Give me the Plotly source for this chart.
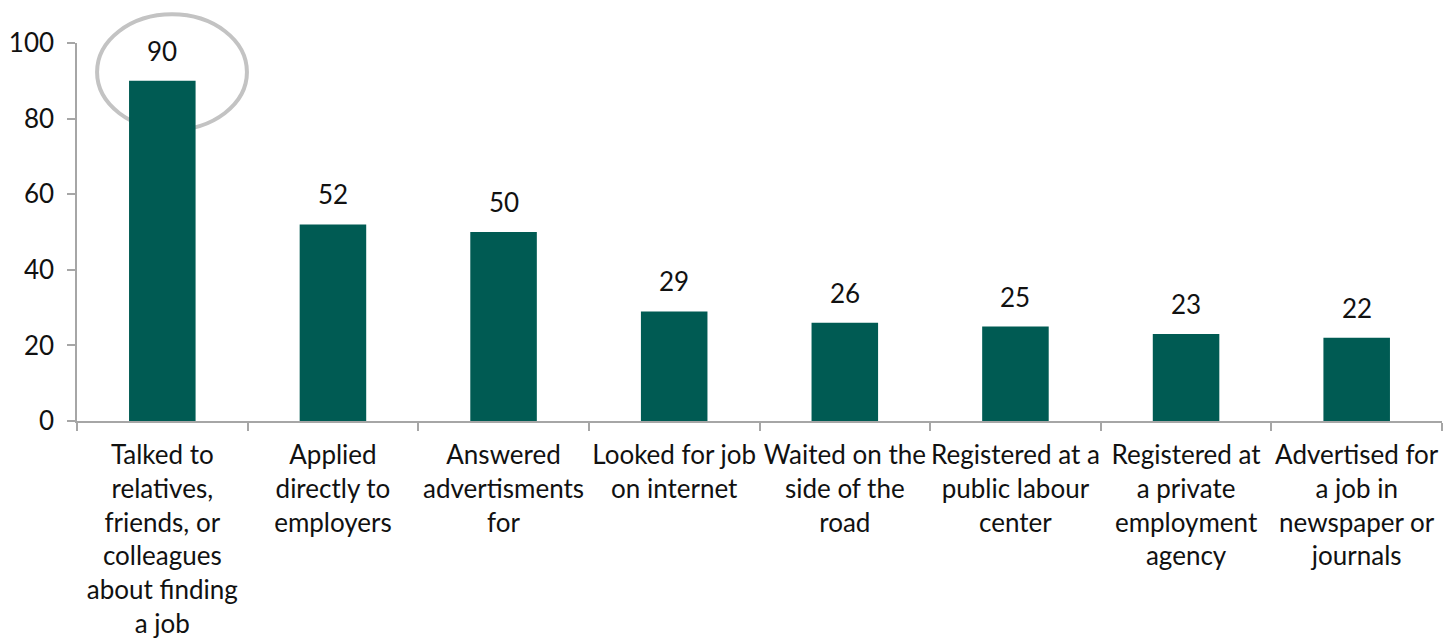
import plotly.graph_objects as go

# Job search methods and share of respondents using each (%)
categories = [
    "Talked to<br>relatives,<br>friends, or<br>colleagues<br>about finding<br>a job",
    "Applied<br>directly to<br>employers",
    "Answered<br>advertisments<br>for",
    "Looked for job<br>on internet",
    "Waited on the<br>side of the<br>road",
    "Registered at a<br>public labour<br>center",
    "Registered at<br>a private<br>employment<br>agency",
    "Advertised for<br>a job in<br>newspaper or<br>journals",
]
values = [90, 52, 50, 29, 26, 25, 23, 22]
y_ticks = [0, 20, 40, 60, 80, 100]

FONT = "Lato, 'Open Sans', sans-serif"
BAR = "#005B53"
AXIS = "#A6A6A6"
TXT = "#111111"
SIZE = 26

fig = go.Figure()
fig.add_trace(go.Bar(
    x=categories,
    y=values,
    marker=dict(color=BAR, line=dict(width=0)),
    hoverinfo="skip",
))

# value labels above each bar
for c, v in zip(categories, values):
    fig.add_annotation(
        x=c, y=v, text=str(v), showarrow=False,
        yanchor="bottom", yshift=12,
        font=dict(family=FONT, size=SIZE, color=TXT),
    )

# highlight ring around the leading method
fig.add_shape(
    type="circle", xref="paper", yref="paper",
    x0=0.0147, x1=0.1245, y0=0.770, y1=1.076,
    line=dict(color="#C3C3C3", width=4),
    layer="below",
)

fig.update_layout(
    width=1443, height=643,
    margin=dict(l=77, r=1, t=43, b=222),
    paper_bgcolor="white",
    plot_bgcolor="rgba(0,0,0,0)",
    bargap=0.61,
    showlegend=False,
    font=dict(family=FONT, size=SIZE, color=TXT),
    xaxis=dict(
        showline=True, linecolor=AXIS, linewidth=1.5,
        ticks="outside", tickson="boundaries", ticklen=8,
        tickcolor=AXIS, tickwidth=1.5,
        showgrid=False, zeroline=False,
        tickangle=0, automargin=False, ticklabelstandoff=10,
        tickfont=dict(family=FONT, size=SIZE, color=TXT),
    ),
    yaxis=dict(
        range=[0, 100], tickvals=y_ticks,
        showline=True, linecolor=AXIS, linewidth=1.5,
        ticks="outside", ticklen=8, tickcolor=AXIS, tickwidth=1.5,
        showgrid=False, zeroline=False, automargin=False,
        ticklabelstandoff=8,
        tickfont=dict(family=FONT, size=SIZE, color=TXT),
    ),
)

fig.write_html("out.html")
